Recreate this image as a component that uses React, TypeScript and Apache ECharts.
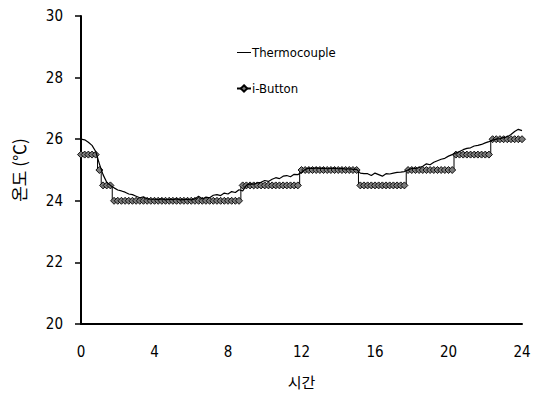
import React, { useEffect, useRef } from "react";
import * as echarts from "echarts";

// time in hours, sampled every 0.2 h (0 .. 24)
const hours: number[] = Array.from({ length: 121 }, (_, i) => Math.round(i * 2) / 10);

const thermocouple: number[] = [
  26.0, 25.98, 25.9, 25.8, 25.6, 25.2, 24.85, 24.6, 24.5, 24.42,
  24.35, 24.32, 24.28, 24.22, 24.2, 24.15, 24.1, 24.13, 24.06, 24.05,
  24.05, 24.04, 24.06, 24.03, 24.05, 24.04, 24.06, 24.03, 24.04, 24.05,
  24.03, 24.06, 24.15, 24.06, 24.12, 24.1, 24.18, 24.2, 24.17, 24.25,
  24.22, 24.3, 24.27, 24.36, 24.32, 24.5, 24.55, 24.54, 24.58, 24.6,
  24.66, 24.63, 24.7, 24.75, 24.72, 24.8, 24.82, 24.78, 24.86, 24.85,
  24.92, 25.02, 25.06, 25.05, 25.07, 25.05, 25.06, 25.04, 25.05, 25.06,
  25.04, 25.05, 25.03, 25.04, 25.02, 25.02, 24.9, 24.88, 24.88, 24.82,
  24.9, 24.85, 24.8, 24.88, 24.87, 24.9, 24.92, 24.93, 24.95, 25.0,
  25.05, 25.05, 25.08, 25.12, 25.2, 25.17, 25.25, 25.3, 25.35, 25.38,
  25.45, 25.5, 25.55, 25.6, 25.66, 25.7, 25.72, 25.78, 25.8, 25.83,
  25.88, 25.92, 25.97, 26.0, 26.02, 26.05, 26.08, 26.15, 26.25, 26.32,
  26.28,
];

const iButton: number[] = [
  25.5, 25.5, 25.5, 25.5, 25.5, 25.0, 24.5, 24.5, 24.5, 24.0,
  24.0, 24.0, 24.0, 24.0, 24.0, 24.0, 24.0, 24.0, 24.0, 24.0,
  24.0, 24.0, 24.0, 24.0, 24.0, 24.0, 24.0, 24.0, 24.0, 24.0,
  24.0, 24.0, 24.0, 24.0, 24.0, 24.0, 24.0, 24.0, 24.0, 24.0,
  24.0, 24.0, 24.0, 24.0, 24.5, 24.5, 24.5, 24.5, 24.5, 24.5,
  24.5, 24.5, 24.5, 24.5, 24.5, 24.5, 24.5, 24.5, 24.5, 24.5,
  25.0, 25.0, 25.0, 25.0, 25.0, 25.0, 25.0, 25.0, 25.0, 25.0,
  25.0, 25.0, 25.0, 25.0, 25.0, 25.0, 24.5, 24.5, 24.5, 24.5,
  24.5, 24.5, 24.5, 24.5, 24.5, 24.5, 24.5, 24.5, 24.5, 25.0,
  25.0, 25.0, 25.0, 25.0, 25.0, 25.0, 25.0, 25.0, 25.0, 25.0,
  25.0, 25.0, 25.5, 25.5, 25.5, 25.5, 25.5, 25.5, 25.5, 25.5,
  25.5, 25.5, 26.0, 26.0, 26.0, 26.0, 26.0, 26.0, 26.0, 26.0,
  26.0,
];

const FONT = "'DejaVu Sans Condensed', 'Liberation Sans Narrow', 'Liberation Sans', sans-serif";
const KFONT = "'Noto Sans CJK KR', sans-serif";

export default function App() {
  const ref = useRef<HTMLDivElement>(null);
  useEffect(() => {
    if (!ref.current) return;
    const chart = echarts.init(ref.current, undefined, { renderer: "svg" });
    const tc = hours.map((h, i) => [h, thermocouple[i]]);
    const ib = hours.map((h, i) => [h, iButton[i]]);
    chart.setOption({
      animation: false,
      backgroundColor: "#fff",
      grid: { left: 81, right: 18, top: 16, bottom: 71 },
      legend: {
        orient: "vertical",
        left: 231,
        top: 41,
        itemGap: 23,
        itemWidth: 14,
        itemHeight: 8,
        textStyle: { fontFamily: FONT, fontSize: 13, color: "#000", padding: [0, 0, 0, -4] },
        data: [
          { name: "Thermocouple", icon: "path://M0,5L14,5L14,6L0,6Z" },
          { name: "i-Button" },
        ],
      },
      xAxis: {
        type: "value",
        min: 0,
        max: 24,
        interval: 4,
        name: "시간",
        nameLocation: "middle",
        nameGap: 50,
        nameTextStyle: { fontFamily: KFONT, fontSize: 15, color: "#000" },
        axisLine: { show: true, lineStyle: { color: "#000", width: 2 } },
        axisTick: { show: false },
        splitLine: { show: false },
        axisLabel: { fontFamily: FONT, fontSize: 15, color: "#000", margin: 20 },
      },
      yAxis: {
        type: "value",
        min: 20,
        max: 30,
        interval: 2,
        name: "온도 (℃)",
        nameLocation: "middle",
        nameGap: 54,
        nameRotate: 90,
        nameTextStyle: { fontFamily: KFONT, fontSize: 17, color: "#000" },
        axisLine: { show: true, lineStyle: { color: "#000", width: 2 } },
        axisTick: { show: true, length: 6, lineStyle: { color: "#000", width: 1.5 } },
        splitLine: { show: false },
        axisLabel: { fontFamily: FONT, fontSize: 15, color: "#000", margin: 18 },
      },
      series: [
        {
          name: "i-Button",
          type: "line",
          data: ib,
          step: "middle",
          symbol: "diamond",
          symbolSize: 7,
          showSymbol: true,
          lineStyle: { color: "#000", width: 1 },
          itemStyle: { color: "#7a7a7a", borderColor: "#000", borderWidth: 0.9 },
          z: 2,
        },
        {
          name: "Thermocouple",
          type: "line",
          data: tc,
          symbol: "none",
          showSymbol: false,
          lineStyle: { color: "#000", width: 1.2 },
          itemStyle: { color: "#000" },
          z: 3,
        },
      ],
    });
    return () => chart.dispose();
  }, []);
  return <div ref={ref} style={{ width: 540, height: 395, marginLeft: -8, marginTop: -8 }} />;
}
